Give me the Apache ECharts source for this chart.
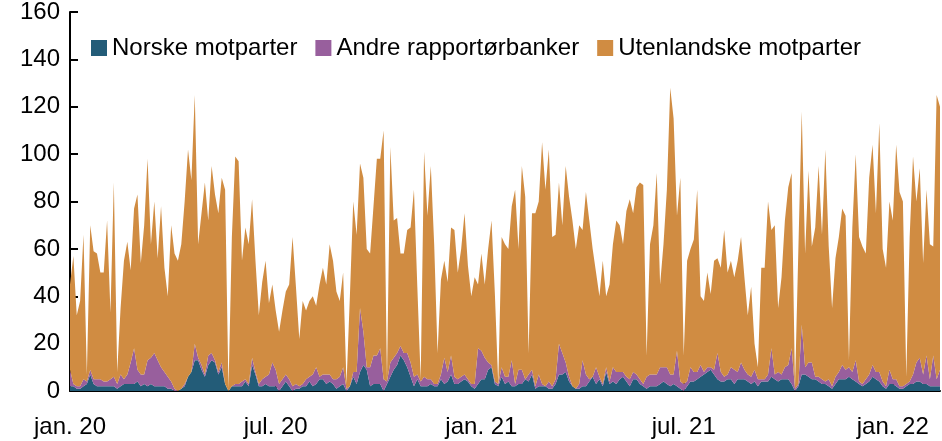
<!DOCTYPE html>
<html>
<head>
<meta charset="utf-8">
<script src="https://cdn.jsdelivr.net/npm/echarts@6/dist/echarts.min.js"></script>
<style>
  html, body { margin: 0; padding: 0; background: #fff; }
  #chart { width: 942px; height: 441px; }
</style>
</head>
<body>
<div id="chart"></div>
<script>
// daglige verdier lest av figuren, ett punkt per tredje dag fra 1. jan. 2020
var STEP_DAYS = 3;

var norske = [
  2,2,1,1,2,3,7,3,2,2, 2,2,2,2,1,2,3,3,3,3, 4,2,3,2,3,2,2,2,2,1,
  1,0,0,1,2,6,8,13,13,9, 6,11,13,12,7,10,3,0,2,2, 2,2,4,2,11,7,2,2,3,2,
  2,2,0,2,4,2,0,1,1,2, 2,4,2,3,5,5,3,4,3,1, 2,3,0,2,6,3,8,11,9,2,
  3,3,3,0,3,6,9,11,15,13, 10,6,2,5,2,2,2,3,2,2, 5,3,4,7,3,3,4,5,4,2,
  1,3,5,5,9,10,3,2,6,3, 4,2,2,3,3,5,4,7,1,2, 2,2,1,1,3,7,7,8,4,2,
  1,1,2,2,4,6,3,5,2,8, 3,4,3,5,6,4,2,5,5,3, 2,1,2,2,2,3,4,3,2,3,
  2,1,0,2,4,4,5,6,7,8, 9,7,5,4,4,5,5,3,5,5, 5,4,3,4,2,4,4,4,6,5,
  4,5,5,5,3,0,2,7,7,6, 5,5,4,3,3,2,1,3,5,5, 5,6,5,4,3,2,3,4,6,5,
  4,2,1,3,3,2,1,1,2,3, 3,4,4,3,3,2,2,2,2
];

var andre = [
  7,1,1,1,3,1,2,2,3,3, 2,2,3,4,2,5,2,4,9,15, 5,5,4,11,11,14,11,8,6,5,
  3,1,0,0,1,0,0,7,1,2, 1,4,3,1,1,2,0,0,0,1, 1,2,1,1,3,1,1,3,3,5,
  10,7,3,3,3,3,2,2,1,1, 3,2,5,7,1,2,4,3,2,4, 4,7,1,0,2,5,27,14,1,8,
  12,12,15,5,1,6,5,5,4,3, 6,6,4,2,2,4,3,2,1,1, 2,11,4,8,3,2,2,2,1,1,
  2,15,12,9,3,1,1,1,4,3, 2,11,1,6,6,0,3,2,1,5, 1,0,3,1,2,13,9,4,2,0,
  0,2,11,5,1,0,7,1,1,2, 1,6,5,3,2,2,3,3,2,2, 1,5,5,5,5,7,6,7,5,4,
  15,3,3,2,6,4,3,5,1,2, 1,2,11,4,2,2,5,6,3,7, 4,3,3,5,3,1,1,3,12,2,
  4,2,5,6,15,1,1,21,3,6, 7,1,2,2,1,3,1,3,3,6, 4,4,3,9,1,1,2,3,5,3,
  4,2,1,6,2,3,1,1,1,1, 4,8,10,4,12,3,13,3,7
];

var utenlandske = [
  36,54,30,36,61,3,61,54,53,45, 46,68,28,82,5,28,50,56,39,59, 74,47,63,85,48,64,43,68,44,34,
  66,57,55,61,77,96,81,105,48,64, 81,57,79,70,67,78,82,1,63,96, 94,51,64,59,67,47,29,41,49,30,
  33,25,22,29,35,40,63,41,20,35, 29,32,33,26,39,45,38,55,50,37, 32,40,2,38,72,58,61,65,50,48,
  63,83,80,105,1,91,58,57,39,42, 52,57,79,37,1,95,69,90,59,13, 40,41,38,54,62,45,54,68,48,37,
  45,27,41,31,48,61,37,0,55,56, 54,65,82,51,86,77,9,66,73,73, 102,83,98,63,61,68,54,83,76,70,
  59,67,55,77,67,54,40,34,52,30, 41,52,64,62,54,70,76,67,79,83, 84,9,55,63,85,35,52,75,121,108,
  57,86,12,51,50,56,77,29,30,40, 31,46,40,44,62,43,45,39,47,53, 39,25,38,11,5,47,47,73,50,63,
  27,41,62,75,74,1,57,90,48,81, 49,63,89,61,98,56,33,50,57,66, 65,3,61,87,61,58,53,83,93,67,
  105,56,50,71,67,99,82,78,3,61, 92,68,80,47,70,57,46,120,111
];

// punkter (indekser) nærmest 1. jan. og 1. jul.
var tickIndex = [0, 61, 122, 182, 244];
var tickLabels = ['jan. 20', 'jul. 20', 'jan. 21', 'jul. 21', 'jan. 22'];

var seriesNames = ['Norske motparter', 'Andre rapportørbanker', 'Utenlandske motparter'];
var seriesColors = ['#235c78', '#985f9d', '#d08c42'];

var FONT = '"Liberation Sans", Arial, sans-serif';

var categories = norske.map(function (_, i) { return String(i * STEP_DAYS); });

function isTick(index) {
  return tickIndex.indexOf(index) >= 0;
}

var chart = echarts.init(document.getElementById('chart'), null, { renderer: 'canvas' });

var series = [norske, andre, utenlandske].map(function (values, k) {
  return {
    name: seriesNames[k],
    type: 'line',
    stack: 'total',
    data: values,
    showSymbol: false,
    symbol: 'none',
    sampling: null,
    lineStyle: { width: 0 },
    areaStyle: { color: seriesColors[k], opacity: 1 },
    itemStyle: { color: seriesColors[k] },
    emphasis: { disabled: true }
  };
});

chart.setOption({
  animation: false,
  backgroundColor: '#fff',
  grid: { left: 70, right: 2, top: 12, bottom: 50, containLabel: false },
  legend: {
    left: 86,
    top: 31,
    icon: 'rect',
    itemWidth: 16,
    itemHeight: 16,
    itemGap: 18,
    textStyle: { fontFamily: FONT, fontSize: 24, color: '#000' },
    data: seriesNames.map(function (n, k) {
      return { name: n, icon: 'rect', itemStyle: { color: seriesColors[k] } };
    })
  },
  xAxis: {
    type: 'category',
    data: categories,
    boundaryGap: false,
    splitLine: { show: false },
    axisLine: { show: true, lineStyle: { color: '#000', width: 2 } },
    axisTick: {
      show: true, inside: true, length: 8,
      interval: function (index) { return isTick(index); },
      lineStyle: { color: '#000', width: 2 }
    },
    axisLabel: {
      interval: function (index) { return isTick(index); },
      margin: 24,
      fontFamily: FONT,
      fontSize: 24,
      color: '#000',
      formatter: function (v, index) {
        var idx = tickIndex.indexOf(index);
        return idx >= 0 ? tickLabels[idx] : '';
      }
    }
  },
  yAxis: {
    type: 'value',
    min: 0,
    max: 160,
    interval: 20,
    splitLine: { show: false },
    axisLine: { show: true, lineStyle: { color: '#000', width: 2 } },
    axisTick: { show: true, inside: true, length: 8, lineStyle: { color: '#000', width: 2 } },
    axisLabel: { fontFamily: FONT, fontSize: 24, color: '#000', margin: 10 }
  },
  series: series
});
</script>
</body>
</html>
